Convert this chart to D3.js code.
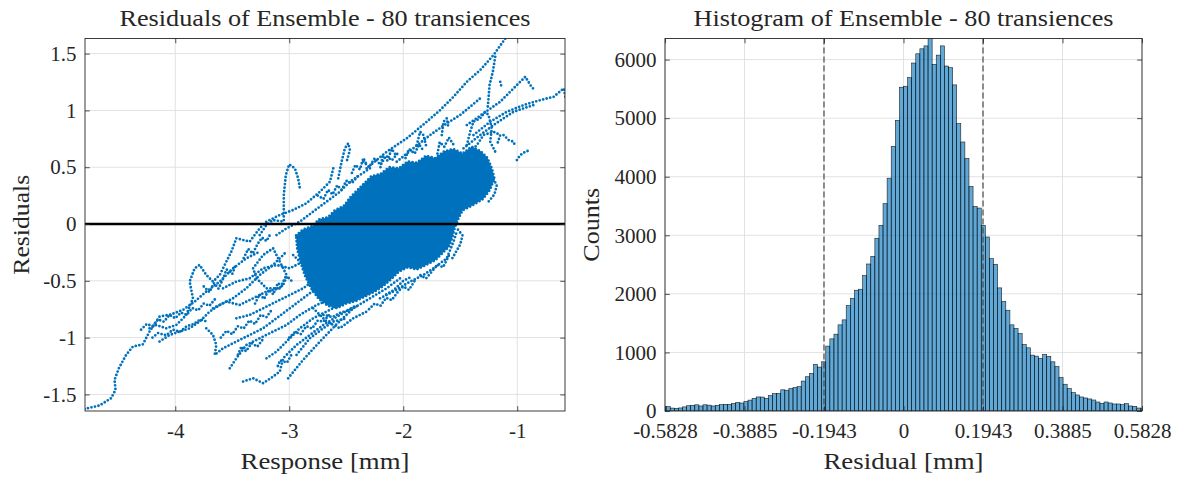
<!DOCTYPE html>
<html>
<head>
<meta charset="utf-8">
<script src="https://cdn.jsdelivr.net/npm/d3@7"></script>
<style>
  html, body { margin: 0; padding: 0; background: #ffffff; }
</style>
</head>
<body>
<svg id="fig" width="1181" height="477"></svg>
<script>
// ---------------- residual scatter data ----------------
const responseDomain = [-4.792, -0.581];
const residualDomain = [-1.646, 1.633];
const responseTicks = [-4, -3, -2, -1];
const responseTickLabels = ["-4", "-3", "-2", "-1"];
const residualTicks = [-1.5, -1, -0.5, 0, 0.5, 1, 1.5];
const residualTickLabels = ["-1.5", "-1", "-0.5", "0", "0.5", "1", "1.5"];

// outline of the densely packed core of residuals, [response, residual]
const coreOutline = [
  [-2.94,-0.10],[-2.88,-0.05],[-2.80,-0.02],[-2.74,0.04],[-2.66,0.06],[-2.60,0.12],[-2.52,0.16],
  [-2.46,0.24],[-2.40,0.30],[-2.34,0.36],[-2.28,0.42],[-2.20,0.44],[-2.12,0.50],[-2.04,0.49],
  [-1.96,0.55],[-1.88,0.54],[-1.80,0.60],[-1.72,0.58],[-1.64,0.64],[-1.56,0.66],[-1.48,0.62],
  [-1.40,0.68],[-1.32,0.64],[-1.26,0.58],[-1.22,0.48],[-1.20,0.40],[-1.24,0.30],[-1.30,0.22],
  [-1.40,0.16],[-1.48,0.12],[-1.52,0.04],[-1.55,-0.04],[-1.57,-0.12],[-1.60,-0.20],[-1.66,-0.26],
  [-1.72,-0.32],[-1.80,-0.36],[-1.88,-0.40],[-1.96,-0.38],[-2.04,-0.42],[-2.10,-0.48],[-2.18,-0.55],
  [-2.26,-0.60],[-2.34,-0.64],[-2.42,-0.68],[-2.50,-0.70],[-2.58,-0.74],[-2.66,-0.72],[-2.74,-0.66],
  [-2.80,-0.58],[-2.86,-0.46],[-2.90,-0.34],[-2.93,-0.22]
];

// individual transience trajectories, [response, residual]
const traces = [
  [[-4.797,-1.628],[-4.665,-1.598],[-4.563,-1.534],[-4.524,-1.460],[-4.533,-1.372],[-4.495,-1.270],[-4.431,-1.152],[-4.372,-1.079],[-4.284,-1.059],[-4.226,-0.947],[-4.138,-0.815],[-4.035,-0.795],[-3.933,-0.757],[-3.830,-0.683],[-3.728,-0.595],[-3.610,-0.507],[-3.493,-0.390],[-3.376,-0.302],[-3.259,-0.243]],
  [[-4.226,-0.918],[-4.167,-0.889],[-4.079,-0.918],[-3.991,-0.889],[-3.903,-0.801],[-3.845,-0.654],[-3.874,-0.507],[-3.830,-0.390],[-3.786,-0.361],[-3.728,-0.449],[-3.669,-0.507],[-3.610,-0.449],[-3.552,-0.331],[-3.508,-0.243],[-3.464,-0.126]],
  [[-4.138,-1.035],[-4.050,-0.977],[-3.962,-0.947],[-3.874,-0.918],[-3.786,-0.859],[-3.698,-0.771],[-3.610,-0.713],[-3.493,-0.654],[-3.376,-0.566],[-3.259,-0.449],[-3.142,-0.361],[-3.024,-0.243]],
  [[-3.728,-0.918],[-3.669,-0.977],[-3.640,-1.065],[-3.654,-1.152],[-3.581,-1.094],[-3.464,-1.035],[-3.347,-0.977],[-3.229,-0.918],[-3.112,-0.830],[-2.995,-0.742],[-2.878,-0.654],[-2.761,-0.566],[-2.643,-0.478]],
  [[-3.522,-1.270],[-3.464,-1.182],[-3.376,-1.065],[-3.259,-1.006],[-3.142,-0.947],[-3.024,-0.889],[-2.907,-0.801],[-2.761,-0.713],[-2.614,-0.654]],
  [[-3.405,-1.387],[-3.317,-1.358],[-3.229,-1.402],[-3.142,-1.343],[-3.083,-1.299],[-3.054,-1.182],[-2.936,-1.065],[-2.819,-0.977],[-2.702,-0.889],[-2.556,-0.801],[-2.409,-0.713]],
  [[-3.010,-1.358],[-2.878,-1.196],[-2.731,-1.035],[-2.585,-0.883],[-2.438,-0.742],[-2.292,-0.654],[-2.145,-0.566],[-2.028,-0.478]],
  [[-3.464,-0.126],[-3.347,-0.155],[-3.259,-0.038],[-3.200,0.021],[-3.083,0.079],[-2.966,0.123],[-2.849,0.182],[-2.731,0.284],[-2.643,0.372],[-2.614,0.490]],
  [[-3.048,0.035],[-3.048,0.255],[-3.030,0.431],[-3.001,0.525],[-2.951,0.490],[-2.922,0.402],[-2.907,0.314]],
  [[-2.570,0.402],[-2.541,0.548],[-2.512,0.666],[-2.482,0.710],[-2.468,0.651],[-2.497,0.548]],
  [[-3.317,-0.390],[-3.229,-0.273],[-3.142,-0.214],[-3.083,-0.331],[-3.024,-0.449],[-3.083,-0.566],[-3.200,-0.566],[-3.288,-0.478],[-3.317,-0.390]],
  [[-2.966,-0.273],[-2.849,-0.390],[-2.731,-0.449],[-2.614,-0.507],[-2.497,-0.449],[-2.380,-0.390]],
  [[-2.790,-0.742],[-2.673,-0.859],[-2.556,-0.918],[-2.438,-0.830],[-2.321,-0.771]],
  [[-2.204,-0.654],[-2.087,-0.595],[-1.940,-0.507],[-1.823,-0.449],[-1.735,-0.390],[-1.618,-0.302],[-1.559,-0.155],[-1.530,-0.067]],
  [[-3.581,-0.566],[-3.464,-0.507],[-3.347,-0.478],[-3.229,-0.390],[-3.112,-0.361],[-2.995,-0.390],[-2.878,-0.331],[-2.790,-0.243]],
  [[-3.464,-0.830],[-3.347,-0.801],[-3.229,-0.742],[-3.112,-0.683],[-2.995,-0.625],[-2.878,-0.566],[-2.761,-0.478],[-2.643,-0.390]],
  [[-3.669,-0.742],[-3.552,-0.683],[-3.435,-0.713],[-3.317,-0.654],[-3.200,-0.595],[-3.083,-0.566]],
  [[-3.200,-1.182],[-3.112,-1.123],[-3.024,-1.035],[-2.907,-0.918],[-2.790,-0.830],[-2.673,-0.771],[-2.556,-0.713]],
  [[-2.936,-1.152],[-2.819,-1.006],[-2.702,-0.918],[-2.614,-0.859],[-2.497,-0.830]],
  [[-3.112,-0.097],[-3.024,-0.038],[-2.907,0.021],[-2.790,0.109],[-2.673,0.196],[-2.556,0.284],[-2.468,0.372],[-2.380,0.431],[-2.292,0.490]],
  [[-3.259,-0.097],[-3.200,-0.009],[-3.142,0.035],[-3.054,0.021]],
  [[-2.321,0.490],[-2.145,0.636],[-1.969,0.754],[-1.794,0.900],[-1.676,1.003],[-1.559,1.120],[-1.442,1.252],[-1.325,1.355],[-1.208,1.487],[-1.105,1.633]],
  [[-2.057,0.548],[-1.911,0.666],[-1.764,0.783],[-1.618,0.886],[-1.501,0.959],[-1.413,1.032],[-1.325,1.106]],
  [[-1.193,1.472],[-1.214,1.340],[-1.243,1.223],[-1.252,1.106],[-1.261,1.003]],
  [[-1.149,1.252],[-1.135,1.194]],
  [[-1.442,0.871],[-1.296,0.974],[-1.149,1.076],[-1.032,1.194],[-0.929,1.296],[-0.885,1.223],[-0.850,1.179]],
  [[-1.384,0.783],[-1.237,0.900],[-1.091,0.988],[-0.944,1.047],[-0.797,1.091],[-0.680,1.120],[-0.592,1.194],[-0.575,1.106]],
  [[-1.471,0.666],[-1.325,0.783],[-1.208,0.871],[-1.120,0.930],[-1.032,0.988],[-0.944,1.018],[-0.856,1.047]],
  [[-1.120,0.783],[-1.076,0.739],[-1.032,0.724],[-1.017,0.680]],
  [[-1.003,0.563],[-0.973,0.607],[-0.929,0.636],[-0.885,0.651]],
  [[-1.442,0.695],[-1.413,0.812],[-1.384,0.900],[-1.325,0.930],[-1.281,0.988],[-1.252,0.959],[-1.223,0.842],[-1.237,0.724],[-1.193,0.636]],
  [[-1.501,0.490],[-1.471,0.607],[-1.413,0.636],[-1.354,0.695],[-1.296,0.783],[-1.208,0.812],[-1.149,0.783],[-1.178,0.695]],
  [[-1.662,0.783],[-1.647,0.900],[-1.618,0.930],[-1.603,0.842]],
  [[-1.882,0.695],[-1.852,0.812],[-1.823,0.783],[-1.794,0.666]],
  [[-4.30,-0.93],[-4.25,-0.88],[-4.20,-0.90],[-4.15,-0.84],[-4.10,-0.86],[-4.05,-0.80],[-4.00,-0.83],[-3.95,-0.78],[-3.90,-0.80],[-3.85,-0.74],[-3.80,-0.76],[-3.75,-0.70],[-3.70,-0.72],[-3.65,-0.66]],
  [[-4.20,-1.00],[-4.15,-0.96],[-4.08,-0.98],[-4.02,-0.93],[-3.96,-0.95],[-3.90,-0.90],[-3.84,-0.88],[-3.78,-0.84],[-3.72,-0.86]],
  [[-3.75,-0.55],[-3.70,-0.60],[-3.66,-0.52],[-3.62,-0.57],[-3.58,-0.48],[-3.55,-0.40],[-3.50,-0.44],[-3.47,-0.36]],
  [[-3.60,-1.00],[-3.55,-0.94],[-3.50,-0.97],[-3.45,-0.90],[-3.40,-0.92],[-3.35,-0.85],[-3.30,-0.88],[-3.25,-0.80],[-3.20,-0.82],[-3.15,-0.75]],
  [[-3.45,-1.15],[-3.42,-1.08],[-3.38,-1.12],[-3.33,-1.05],[-3.28,-1.08],[-3.22,-1.00]],
  [[-3.30,-0.70],[-3.26,-0.62],[-3.22,-0.66],[-3.18,-0.58],[-3.14,-0.62],[-3.10,-0.52],[-3.06,-0.55],[-3.02,-0.46],[-2.98,-0.50]],
  [[-3.40,-0.30],[-3.36,-0.22],[-3.32,-0.26],[-3.28,-0.18],[-3.24,-0.12],[-3.20,-0.15],[-3.16,-0.08]],
  [[-3.00,-1.00],[-2.95,-0.95],[-2.90,-0.97],[-2.85,-0.90],[-2.80,-0.92],[-2.75,-0.85],[-2.70,-0.86],[-2.65,-0.80]],
  [[-3.10,-1.25],[-3.08,-1.20],[-3.02,-1.22],[-2.98,-1.15]],
  [[-2.90,-0.15],[-2.85,-0.10],[-2.80,-0.12],[-2.75,-0.05],[-2.70,-0.07],[-2.65,0.00],[-2.60,0.03],[-2.55,0.08],[-2.50,0.05],[-2.45,0.12]],
  [[-2.75,0.25],[-2.70,0.22],[-2.66,0.30],[-2.62,0.26],[-2.58,0.34],[-2.54,0.30],[-2.50,0.38],[-2.45,0.36],[-2.40,0.42]],
  [[-2.35,0.55],[-2.30,0.50],[-2.25,0.58],[-2.20,0.52],[-2.15,0.60],[-2.10,0.56],[-2.05,0.62]],
  [[-2.30,-0.75],[-2.25,-0.70],[-2.20,-0.72],[-2.15,-0.65],[-2.10,-0.67],[-2.05,-0.60],[-2.00,-0.55],[-1.95,-0.58],[-1.90,-0.50]],
  [[-1.85,-0.45],[-1.80,-0.48],[-1.75,-0.42],[-1.70,-0.36],[-1.65,-0.38],[-1.60,-0.28]],
  [[-2.45,0.45],[-2.42,0.52],[-2.38,0.48],[-2.35,0.58],[-2.32,0.52]],
  [[-2.20,0.50],[-2.18,0.60],[-2.14,0.56],[-2.10,0.66],[-2.06,0.60]],
  [[-1.98,0.58],[-1.95,0.66],[-1.90,0.62],[-1.86,0.70],[-1.82,0.64]],
  [[-1.70,0.62],[-1.68,0.72],[-1.64,0.68],[-1.60,0.76],[-1.56,0.70]],
  [[-1.52,-0.05],[-1.48,-0.10],[-1.50,-0.18],[-1.54,-0.25],[-1.58,-0.32]],
  [[-1.25,0.20],[-1.20,0.26],[-1.18,0.34],[-1.22,0.42]],
  [[-2.70,-0.80],[-2.62,-0.82],[-2.55,-0.78],[-2.48,-0.76],[-2.40,-0.72]],
  [[-2.15,-0.62],[-2.08,-0.58],[-2.00,-0.50],[-1.92,-0.46]]
];

// ---------------- histogram data ----------------
const binStart = -0.59;
const binWidth = 0.01;
const binCounts = [
  74, 74, 50, 46, 52, 70, 90, 98, 106, 86,
  106, 100, 86, 98, 108, 114, 114, 128, 146, 136,
  162, 186, 214, 240, 238, 214, 262, 296, 300, 362,
  355, 382, 398, 415, 511, 585, 642, 795, 750, 840,
  1108, 1232, 1312, 1471, 1556, 1800, 1925, 2062, 2079, 2312,
  2510, 2640, 2950, 3170, 3540, 3975, 4517, 4963, 5528, 5545,
  5692, 5941, 6099, 6184, 6234, 6360, 5918, 6076, 6234, 5890,
  5862, 5568, 4907, 4593, 4312, 3834, 3493, 3465, 3170, 2971,
  2601, 2505, 2102, 1869, 1721, 1471, 1409, 1323, 1136, 1079,
  954, 937, 897, 965, 934, 840, 760, 571, 457, 383,
  314, 274, 240, 223, 206, 188, 154, 131, 154, 137,
  120, 120, 108, 126, 86, 80, 51, 40
];
const residualRange = [-0.5828, 0.5828];
const countDomain = [0, 6360];
const stdLines = [-0.1943, 0.1943];
const histTicks = [-0.5828, -0.3885, -0.1943, 0, 0.1943, 0.3885, 0.5828];
const histTickLabels = ["-0.5828", "-0.3885", "-0.1943", "0", "0.1943", "0.3885", "0.5828"];
const countTicks = [0, 1000, 2000, 3000, 4000, 5000, 6000];
const countTickLabels = ["0", "1000", "2000", "3000", "4000", "5000", "6000"];

// ---------------- layout ----------------
const FONT = '"Liberation Serif", "DejaVu Serif", serif';
const svg = d3.select("#fig");
const AX = "#262626";
const GRID = "#e2e2e2";
const BLUE = "#0072BD";
const TICK_FONT = 21;
const TICK_LEN = 4.8;

const left = { x0: 85, x1: 565, y0: 38.5, y1: 411 };
const right = { x0: 665, x1: 1142, y0: 38.5, y1: 411 };

function styleAxis(g) {
  g.select(".domain").remove();
  g.attr("font-size", null).attr("font-family", FONT);
  g.selectAll(".tick line").attr("stroke", AX).attr("stroke-width", 0.8);
  g.selectAll(".tick text")
    .attr("font-size", TICK_FONT).attr("fill", AX)
    .style("font-family", FONT);
}

function drawFrame(box, x, y, xt, xl, yt, yl) {
  const grid = svg.append("g");
  grid.selectAll(".gx").data(xt).join("line")
    .attr("x1", d => x(d)).attr("x2", d => x(d))
    .attr("y1", box.y0).attr("y2", box.y1)
    .attr("stroke", GRID).attr("stroke-width", 1);
  grid.selectAll(".gy").data(yt).join("line")
    .attr("x1", box.x0).attr("x2", box.x1)
    .attr("y1", d => y(d)).attr("y2", d => y(d))
    .attr("stroke", GRID).attr("stroke-width", 1);
  return function axes() {
    svg.append("g").attr("transform", `translate(0,${box.y1})`)
      .call(d3.axisBottom(x).tickValues(xt).tickFormat((d, i) => xl[i]).tickSize(-TICK_LEN).tickPadding(12.5))
      .call(styleAxis);
    svg.append("g").attr("transform", `translate(0,${box.y0})`)
      .call(d3.axisTop(x).tickValues(xt).tickFormat("").tickSize(-TICK_LEN))
      .call(styleAxis);
    svg.append("g").attr("transform", `translate(${box.x0},0)`)
      .call(d3.axisLeft(y).tickValues(yt).tickFormat((d, i) => yl[i]).tickSize(-TICK_LEN).tickPadding(8.5))
      .call(styleAxis);
    svg.append("g").attr("transform", `translate(${box.x1},0)`)
      .call(d3.axisRight(y).tickValues(yt).tickFormat("").tickSize(-TICK_LEN))
      .call(styleAxis);
    svg.append("rect")
      .attr("x", box.x0).attr("y", box.y0)
      .attr("width", box.x1 - box.x0).attr("height", box.y1 - box.y0)
      .attr("fill", "none").attr("stroke", AX).attr("stroke-width", 0.9);
  };
}

function label(text, x, y, size, len, rotate) {
  const t = svg.append("text")
    .attr("text-anchor", "middle")
    .attr("font-size", size)
    .attr("fill", AX)
    .style("font-family", FONT)
    .attr("textLength", len)
    .attr("lengthAdjust", "spacingAndGlyphs")
    .text(text);
  if (rotate) t.attr("transform", `translate(${x},${y}) rotate(-90)`);
  else t.attr("x", x).attr("y", y);
  return t;
}

function clip(id, box) {
  svg.append("clipPath").attr("id", id).append("rect")
    .attr("x", box.x0).attr("y", box.y0)
    .attr("width", box.x1 - box.x0).attr("height", box.y1 - box.y0);
}

// ---------------- residual scatter ----------------
const xS = d3.scaleLinear().domain(responseDomain).range([left.x0, left.x1]);
const yS = d3.scaleLinear().domain(residualDomain).range([left.y1, left.y0]);
const axesL = drawFrame(left, xS, yS, responseTicks, responseTickLabels, residualTicks, residualTickLabels);
clip("clipL", left);

const pts = d3.line().x(d => xS(d[0])).y(d => yS(d[1]));
const scatter = svg.append("g").attr("clip-path", "url(#clipL)");

scatter.append("path")
  .attr("d", pts(coreOutline) + "Z")
  .attr("fill", BLUE)
  .attr("stroke", BLUE).attr("stroke-width", 2.8)
  .attr("stroke-linecap", "round").attr("stroke-linejoin", "round")
  .attr("stroke-dasharray", "0 3.6");

scatter.selectAll(".trace").data(traces).join("path")
  .attr("d", d => pts(d))
  .attr("fill", "none")
  .attr("stroke", BLUE).attr("stroke-width", 2.8)
  .attr("stroke-linecap", "round")
  .attr("stroke-dasharray", "0 3.6");

// zero reference line
scatter.append("line")
  .attr("x1", left.x0).attr("x2", left.x1)
  .attr("y1", yS(0)).attr("y2", yS(0))
  .attr("stroke", "#000").attr("stroke-width", 2.6);

axesL();
label("Residuals of Ensemble - 80 transiences", (left.x0 + left.x1) / 2, 26, 24, 411);
label("Response [mm]", (left.x0 + left.x1) / 2, 469, 23, 169);
label("Residuals", 29, (left.y0 + left.y1) / 2, 23, 100, true);

// ---------------- histogram ----------------
const hx = d3.scaleLinear().domain(residualRange).range([right.x0, right.x1]);
const hy = d3.scaleLinear().domain(countDomain).range([right.y1, right.y0]);
const axesR = drawFrame(right, hx, hy, histTicks, histTickLabels, countTicks, countTickLabels);
clip("clipR", right);

const bins = binCounts.map((c, k) => ({ lo: binStart + k * binWidth, hi: binStart + (k + 1) * binWidth, count: c }));
const hist = svg.append("g").attr("clip-path", "url(#clipR)");
hist.selectAll("rect").data(bins).join("rect")
  .attr("x", d => hx(d.lo))
  .attr("width", d => hx(d.hi) - hx(d.lo))
  .attr("y", d => hy(d.count))
  .attr("height", d => hy(0) - hy(d.count))
  .attr("fill", BLUE).attr("fill-opacity", 0.62)
  .attr("stroke", "#000").attr("stroke-opacity", 0.85).attr("stroke-width", 0.6);

hist.selectAll(".std").data(stdLines).join("line")
  .attr("x1", d => hx(d)).attr("x2", d => hx(d))
  .attr("y1", right.y0).attr("y2", right.y1)
  .attr("stroke", "#4a4a4a").attr("stroke-width", 1.2)
  .attr("stroke-dasharray", "6,3");

axesR();
label("Histogram of Ensemble - 80 transiences", (right.x0 + right.x1) / 2, 26, 24, 420);
label("Residual [mm]", (right.x0 + right.x1) / 2, 469, 23, 160);
label("Counts", 599, (right.y0 + right.y1) / 2, 23, 74, true);
</script>
</body>
</html>
